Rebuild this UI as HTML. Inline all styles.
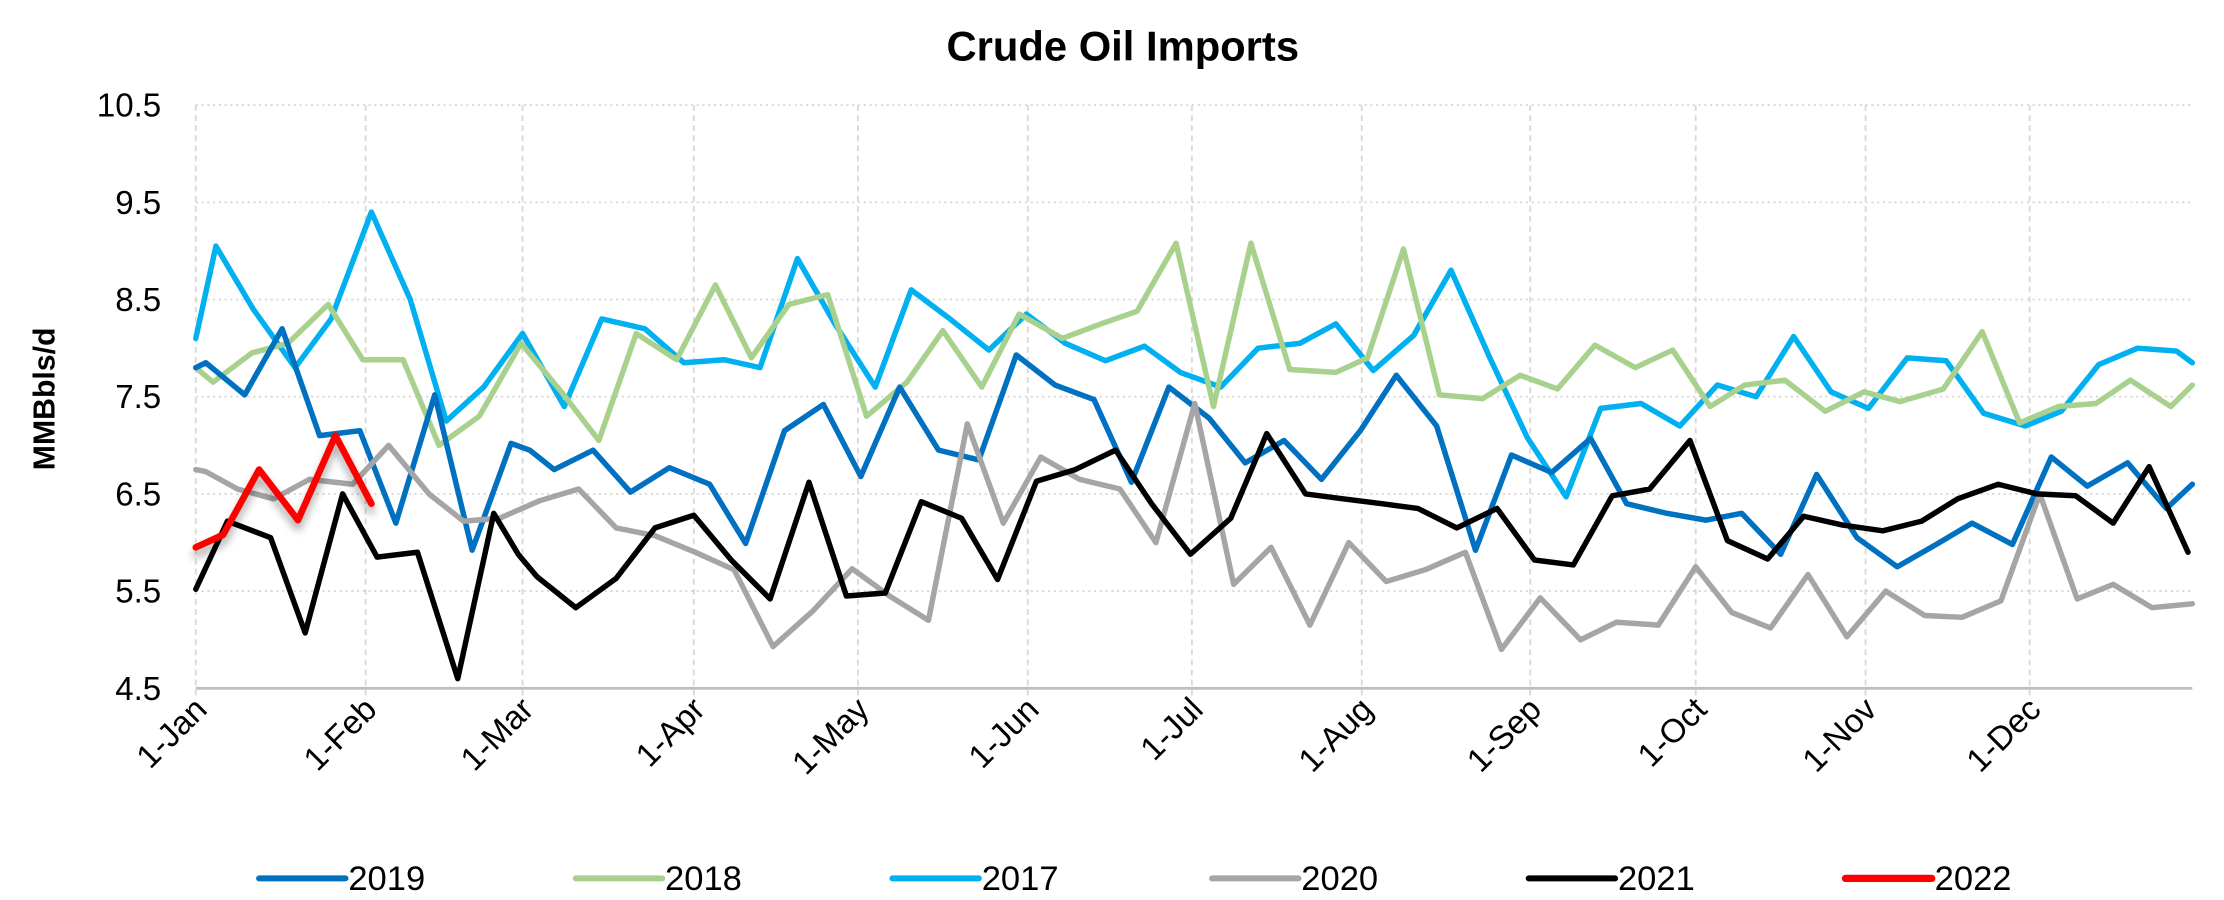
<!DOCTYPE html>
<html><head><meta charset="utf-8">
<style>
html,body{margin:0;padding:0;background:#fff;}
svg{display:block;}
text{font-family:"Liberation Sans Narrow","Liberation Sans",Arial,sans-serif;}
</style></head>
<body>
<svg id="c" width="2224" height="900" viewBox="0 0 1545 625" preserveAspectRatio="none" xmlns="http://www.w3.org/2000/svg">
<defs>
<filter id="sh" x="-20%" y="-20%" width="140%" height="160%"><feGaussianBlur in="SourceAlpha" stdDeviation="3"/><feOffset dx="0" dy="5"/><feComponentTransfer><feFuncA type="linear" slope="0.35"/></feComponentTransfer><feMerge><feMergeNode/><feMergeNode in="SourceGraphic"/></feMerge></filter>
</defs>
<text x="780" y="42" text-anchor="middle" font-size="29" font-weight="bold" fill="#000">Crude Oil Imports</text>
<text transform="translate(38,277) rotate(-90)" text-anchor="middle" font-size="21" font-weight="bold" font-family="Liberation Sans, sans-serif" fill="#000">MMBbls/d</text>
<g id="grid"></g>
<g id="series"></g>
<g id="legend"></g>
</svg>
<script>
var NS="http://www.w3.org/2000/svg";
function el(t,a,p,txt){var e=document.createElementNS(NS,t);for(var k in a)e.setAttribute(k,a[k]);if(txt)e.textContent=txt;p.appendChild(e);return e;}
function Y(v){return 478-(v-4.5)*67.5;}
var g=document.getElementById('grid');
var months=[["1-Jan",136],["1-Feb",254],["1-Mar",363],["1-Apr",482],["1-May",596],["1-Jun",714],["1-Jul",828],["1-Aug",946],["1-Sep",1063],["1-Oct",1178],["1-Nov",1296],["1-Dec",1410]];
[10.5,9.5,8.5,7.5,6.5,5.5].forEach(function(v){
 el('line',{x1:136,x2:1523,y1:Y(v),y2:Y(v),stroke:'#d9d9d9','stroke-width':1.3,'stroke-dasharray':'1.5,2.5'},g);
});
[10.5,9.5,8.5,7.5,6.5,5.5,4.5].forEach(function(v){
 el('text',{x:112,y:Y(v)+8,'text-anchor':'end','font-size':23,fill:'#000'},g,v.toFixed(1));
});
months.forEach(function(m){
 el('line',{x1:m[1],x2:m[1],y1:73,y2:484,stroke:'#d9d9d9','stroke-width':1.3,'stroke-dasharray':'4,3'},g);
 el('text',{x:0,y:0,'text-anchor':'end','font-size':23,fill:'#000',transform:'translate('+(m[1]+9)+',494) rotate(-45)'},g,m[0]);
});
el('line',{x1:136,x2:1523,y1:478,y2:478,stroke:'#bfbfbf','stroke-width':2},g);
var S=[
["#00b0f0",[136,8.1,150,9.05,176,8.4,205,7.8,230,8.3,258,9.4,285,8.5,310,7.25,336,7.6,363,8.15,392,7.4,418,8.3,448,8.2,475,7.85,503,7.88,528,7.8,554,8.92,580,8.25,608,7.6,633,8.6,660,8.3,687,7.98,713,8.35,740,8.05,768,7.87,795,8.02,820,7.75,848,7.6,874,8.0,903,8.05,928,8.25,954,7.77,982,8.13,1008,8.8,1035,7.9,1061,7.08,1088,6.47,1112,7.38,1140,7.43,1167,7.2,1193,7.62,1220,7.5,1246,8.12,1272,7.55,1298,7.38,1325,7.9,1352,7.87,1378,7.33,1407,7.2,1432,7.35,1458,7.83,1485,8.0,1512,7.97,1523,7.85]],
["#a9d18e",[136,7.8,148,7.65,175,7.95,200,8.05,228,8.45,252,7.88,280,7.88,305,7.0,333,7.3,362,8.05,390,7.55,416,7.05,442,8.15,470,7.88,497,8.65,522,7.9,548,8.45,575,8.55,602,7.3,630,7.65,655,8.18,682,7.6,708,8.35,738,8.1,765,8.25,790,8.38,817,9.08,843,7.4,869,9.08,896,7.78,928,7.75,950,7.9,975,9.02,1000,7.52,1030,7.48,1056,7.72,1082,7.58,1108,8.03,1136,7.8,1162,7.98,1188,7.4,1212,7.62,1240,7.67,1268,7.35,1295,7.55,1320,7.45,1350,7.58,1377,8.17,1403,7.23,1430,7.4,1456,7.43,1480,7.67,1508,7.4,1523,7.62]],
["#0070c0",[136,7.8,143,7.85,170,7.52,196,8.2,222,7.1,250,7.15,275,6.2,302,7.52,328,5.92,355,7.02,368,6.95,385,6.75,412,6.95,438,6.52,465,6.77,493,6.6,518,5.99,545,7.15,572,7.42,598,6.68,625,7.6,652,6.95,680,6.85,706,7.93,733,7.62,760,7.47,786,6.62,812,7.6,840,7.28,865,6.82,892,7.05,918,6.65,945,7.15,970,7.72,998,7.2,1025,5.92,1050,6.9,1078,6.72,1105,7.07,1130,6.4,1158,6.3,1185,6.23,1210,6.3,1237,5.88,1262,6.7,1290,6.05,1318,5.75,1345,5.98,1370,6.2,1398,5.98,1425,6.88,1450,6.58,1478,6.82,1505,6.35,1523,6.6]],
["#a5a5a5",[136,6.75,143,6.73,165,6.55,190,6.45,215,6.65,245,6.6,270,7.0,298,6.5,322,6.22,347,6.25,375,6.43,402,6.55,428,6.15,455,6.07,483,5.9,510,5.72,537,4.93,565,5.3,592,5.73,618,5.45,645,5.2,672,7.22,697,6.2,723,6.88,750,6.65,778,6.55,803,6.0,830,7.43,857,5.57,883,5.95,910,5.15,937,6.0,963,5.6,990,5.72,1018,5.9,1043,4.9,1070,5.43,1098,5.0,1123,5.18,1152,5.15,1178,5.75,1203,5.28,1230,5.12,1256,5.67,1283,5.03,1310,5.5,1337,5.25,1363,5.23,1390,5.4,1417,6.5,1443,5.42,1468,5.57,1495,5.33,1523,5.37]],
["#000000",[136,5.52,158,6.22,188,6.05,212,5.07,238,6.5,262,5.85,290,5.9,318,4.6,343,6.3,360,5.88,373,5.65,400,5.33,428,5.63,455,6.15,482,6.28,508,5.82,535,5.42,562,6.62,588,5.45,615,5.48,640,6.42,668,6.25,693,5.62,720,6.63,747,6.75,775,6.95,800,6.4,827,5.88,855,6.25,880,7.12,907,6.5,933,6.45,960,6.4,985,6.35,1012,6.15,1040,6.35,1066,5.82,1093,5.77,1120,6.48,1146,6.55,1174,7.05,1200,6.02,1228,5.83,1253,6.27,1280,6.18,1308,6.12,1335,6.22,1360,6.45,1388,6.6,1415,6.5,1442,6.48,1468,6.2,1493,6.78,1520,5.9]],
["#ff0000",[136,5.95,155,6.08,180,6.75,207,6.23,233,7.1,258,6.4]]
];
var sg=document.getElementById('series');
S.forEach(function(s,i){
 var d=s[1],pts=[];
 for(var j=0;j<d.length;j+=2)pts.push(d[j]+','+Y(d[j+1]).toFixed(1));
 var a={points:pts.join(' '),fill:'none',stroke:s[0],'stroke-width':i==5?4.6:3.8,'stroke-linejoin':'round','stroke-linecap':'round'};
 if(i==5)a.filter='url(#sh)';
 el('polyline',a,sg);
});
var lg=document.getElementById('legend');
[["2019","#0070c0",180],["2018","#a9d18e",400],["2017","#00b0f0",620],["2020","#a5a5a5",842],["2021","#000000",1062],["2022","#ff0000",1282]].forEach(function(l){
 el('line',{x1:l[2],x2:l[2]+60,y1:610,y2:610,stroke:l[1],'stroke-width':l[0]=="2022"?5:4.2,'stroke-linecap':'round'},lg);
 el('text',{x:l[2]+62,y:618,'font-size':24,fill:'#000'},lg,l[0]);
});
</script>
</body></html>
